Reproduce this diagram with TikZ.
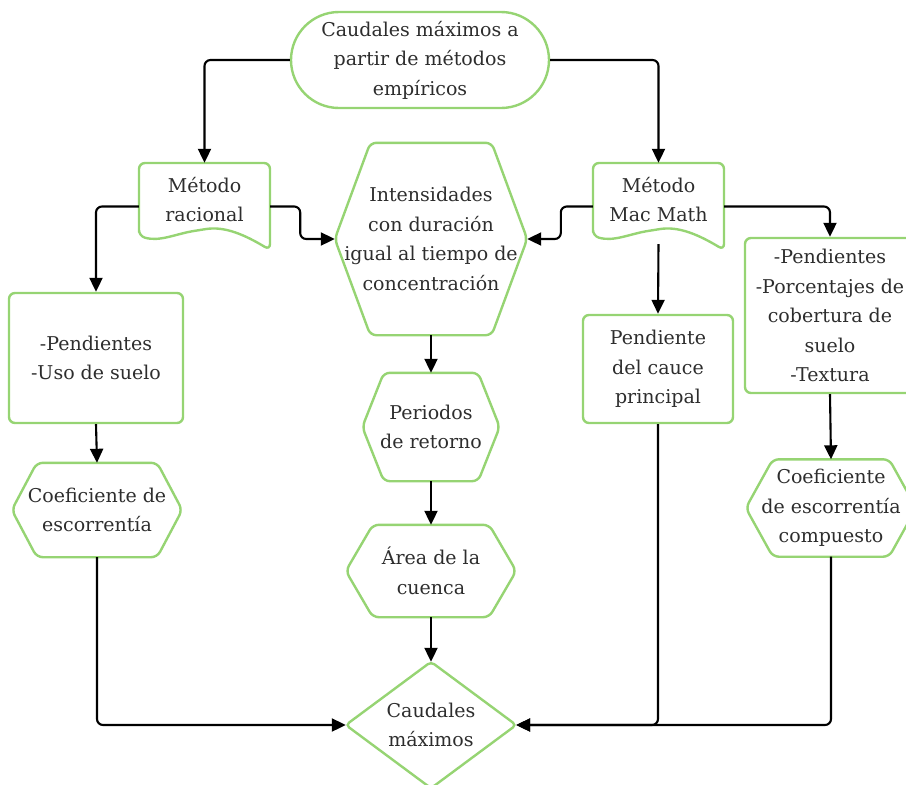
\documentclass[tikz,border=0pt]{standalone}
\usepackage{fontspec}
\setmainfont{DejaVu Serif}
\usetikzlibrary{arrows.meta}
\definecolor{gline}{RGB}{150,212,115}
\definecolor{txt}{RGB}{45,45,45}
\newcommand{\hexshape}[2]{\draw[gl] ([xshift=#2]#1.north west) -- ([xshift=-#2]#1.north east) -- (#1.east) -- ([xshift=-#2]#1.south east) -- ([xshift=#2]#1.south west) -- (#1.west) -- cycle;}
\newcommand{\docshape}[1]{\draw[gl] (#1,236) -- (#1,163) -- (#1+131,163) -- (#1+131,250) .. controls (#1+106,235) and (#1+86,226) .. (#1+61,230) .. controls (#1+36,234) and (#1+21,242) .. (#1,236) -- cycle;}
\begin{document}
\begin{tikzpicture}[x=1pt,y=-1pt,
  lbl/.style={align=center, text=txt, font=\fontsize{19}{29.5}\selectfont, inner sep=0pt, shape=rectangle},
  gl/.style={draw=gline, line width=2.4pt, rounded corners=6pt},
  boxn/.style={lbl, draw=gline, line width=2.4pt, rounded corners=6pt},
  conn/.style={draw=black, line width=2.1pt, rounded corners=6pt, -{Triangle[length=14pt,width=13pt]}}]
\useasboundingbox (0,0) rectangle (906,785);
% nodes
\node[lbl, draw=gline, line width=2.4pt, rounded corners=48pt, minimum width=258pt, minimum height=96pt] (top) at (420,60) {Caudales máximos a\\partir de métodos\\empíricos};
\node[lbl, minimum width=131pt, minimum height=73pt] (mr) at (204.5,199.5) {Método\\racional};
\node[lbl, minimum width=131pt, minimum height=73pt] (mm) at (658.5,199.5) {Método\\Mac Math};
\node[lbl, minimum width=192pt, minimum height=192pt] (int) at (431,239) {Intensidades\\con duración\\igual al tiempo de\\concentración};
\node[boxn, minimum width=174pt, minimum height=130pt] (lbox) at (96,358) {-Pendientes\\-Uso de suelo};
\node[lbl, minimum width=170pt, minimum height=94pt] (lhex) at (97,510) {Coeficiente de\\escorrentía};
\node[lbl, minimum width=137pt, minimum height=108pt] (per) at (431,427) {Periodos\\de retorno};
\node[lbl, minimum width=170pt, minimum height=92pt] (area) at (431,571) {Área de la\\cuenca};
\node[boxn, minimum width=150pt, minimum height=108pt] (pbox) at (658,369) {Pendiente\\del cauce\\principal};
\node[boxn, minimum width=170pt, minimum height=155pt] (rbox) at (830,315.5) {-Pendientes\\-Porcentajes de\\cobertura de\\suelo\\-Textura};
\node[lbl, minimum width=170pt, minimum height=97pt] (rhex) at (831,508) {Coeficiente\\de escorrentía\\compuesto};
\node[lbl, minimum width=170pt, minimum height=126pt] (dia) at (431,725) {Caudales\\máximos};
% shapes
\docshape{139}
\docshape{593}
\hexshape{int}{35.5pt}
\hexshape{lhex}{25pt}
\hexshape{per}{21.5pt}
\hexshape{area}{27pt}
\hexshape{rhex}{27pt}
\draw[gl, rounded corners=4pt] (dia.north) -- (dia.east) -- (dia.south) -- (dia.west) -- cycle;
% connectors
\draw[conn] (top.west) -| (mr.north);
\draw[conn] (top.east) -| (mm.north);
\draw[conn] ([yshift=-7pt]mr.west) -| (lbox.north);
\draw[conn] ([yshift=-7pt]mr.east) -- ++(30,0) |- (int.west);
\draw[conn] ([yshift=-7pt]mm.west) -- ++(-32,0) |- (int.east);
\draw[conn] ([yshift=-7pt]mm.east) -| (rbox.north);
\draw[conn] ([yshift=-8pt]mm.south) -- (pbox.north);
\draw[conn] (lbox.south) -- (lhex.north);
\draw[conn] (int.south) -- (per.north);
\draw[conn] (per.south) -- (area.north);
\draw[conn] (area.south) -- (dia.north);
\draw[conn] (rbox.south) -- (rhex.north);
\draw[conn] (lhex.south) |- (dia.west);
\draw[conn] (pbox.south) |- (dia.east);
\draw[conn] (rhex.south) |- (dia.east);
\end{tikzpicture}
\end{document}
